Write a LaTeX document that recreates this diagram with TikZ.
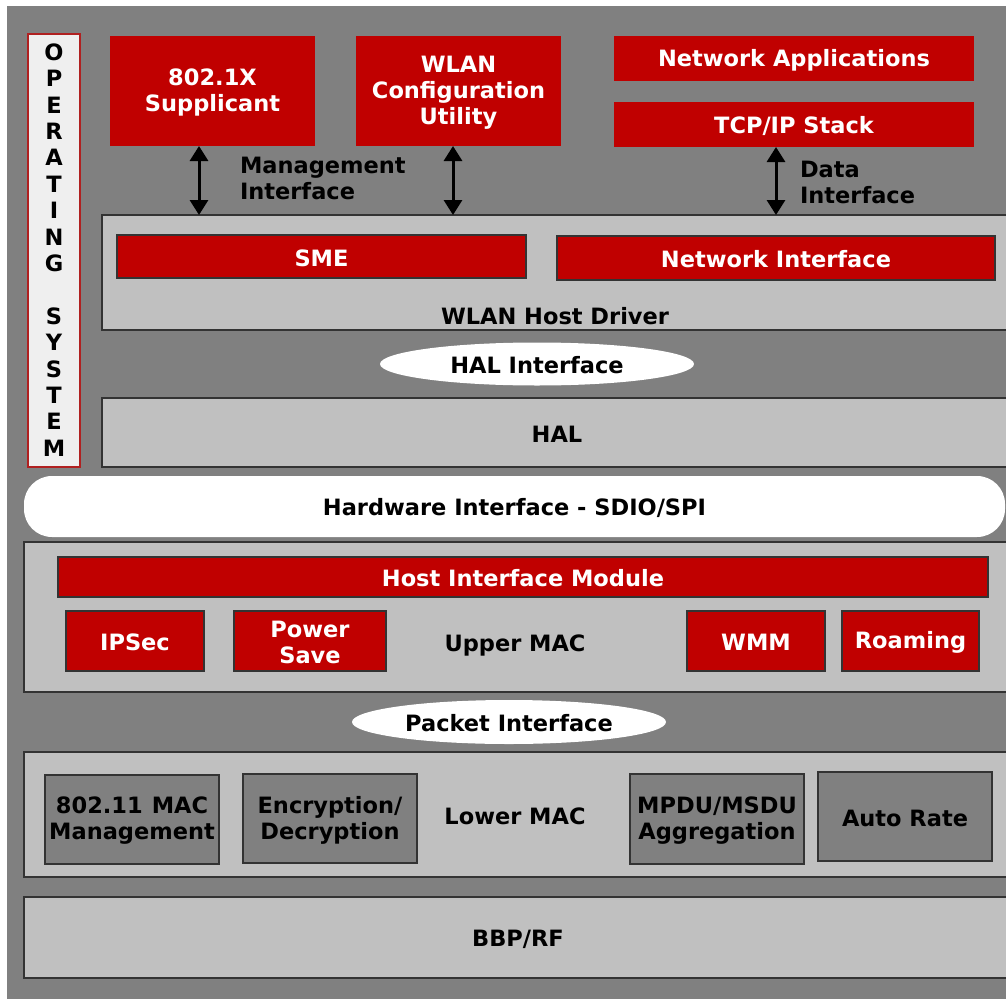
\documentclass[tikz,border=0pt]{standalone}
\usepackage{fontspec}
\setmainfont{DejaVu Sans}
\usetikzlibrary{arrows.meta,shapes.geometric}
\definecolor{bgg}{HTML}{808080}
\definecolor{lg}{HTML}{C0C0C0}
\definecolor{rd}{HTML}{C00000}
\definecolor{bd}{HTML}{333333}
\definecolor{osf}{HTML}{EFEFEF}
\definecolor{osb}{HTML}{B02020}
\newcommand{\blk}[8][]{%
  \pgfmathsetmacro\cx{(#3+#5)/2}\pgfmathsetmacro\cy{(#4+#6)/2}%
  \pgfmathsetmacro\ww{#5-#3}\pgfmathsetmacro\hh{#6-#4}%
  \node[#1, minimum width=\ww pt, minimum height=\hh pt] (#2) at (\cx,\cy) {};
  \node[txt, #7] (#2-t) at (#2.center) {#8};}
\begin{document}
\begin{tikzpicture}[x=1pt,y=-1pt,
  every node/.style={font=\bfseries\fontsize{22.5}{26}\selectfont, inner sep=0pt, outer sep=0pt},
  txt/.style={align=center, yshift=-1.5pt},
  base/.style={rectangle},
  redbox/.style={base, fill=rd},
  redbd/.style={redbox, draw=bd, line width=1.3pt},
  layer/.style={base, fill=lg, draw=bd, line width=1.3pt},
  dkbox/.style={base, fill=bgg, draw=bd, line width=1.3pt},
  oval/.style={ellipse, fill=white},
  wt/.style={text=white},
  lbl/.style={align=left, anchor=west},
  dbl/.style={{Triangle[width=18pt,length=15pt]}-{Triangle[width=18pt,length=15pt]}, line width=3pt}]
\useasboundingbox (0,0) rectangle (1006,998);
\clip (0,0) rectangle (1006,998);
\fill[white] (0,0) rectangle (1006,998);
\fill[bgg] (7,6) rectangle (1010,1002);
% OS
\blk[base, fill=osf, draw=osb, line width=1.5pt]{os}{28}{34}{80}{467}{font=\bfseries\fontsize{22.5}{26.4}\selectfont, yshift=2pt}{O\\P\\E\\R\\A\\T\\I\\N\\G\\\mbox{}\\S\\Y\\S\\T\\E\\M}
% top apps
\blk[redbox]{sup}{110}{36}{315}{146}{wt}{802.1X\\Supplicant}
\blk[redbox]{wcu}{356}{36}{561}{146}{wt}{WLAN\\Configuration\\Utility}
\blk[redbox]{napp}{614}{36}{974}{81}{wt}{Network Applications}
\blk[redbox]{tcp}{614}{102}{974}{147}{wt}{TCP/IP Stack}
% host driver
\blk[layer]{whd}{102}{215}{1012}{330}{}{}
\blk[redbd]{sme}{117}{235}{526}{278}{wt}{SME}
\blk[redbd]{ni}{557}{236}{995}{280}{wt}{Network Interface}
\node[txt] (whdl) at (555,315) {WLAN Host Driver};
% arrows
\coordinate (a1) at (199,146);
\coordinate (a2) at (453,146);
\coordinate (a3) at (776,147);
\draw[dbl] (a1) -- (a1 |- whd.north);
\draw[dbl] (a2) -- (a2 |- whd.north);
\draw[dbl] (a3) -- (a3 |- whd.north);
\node[lbl] (mgl) at (240,178) {Management\\Interface};
\node[lbl] (dal) at (800,182) {Data\\Interface};
% HAL
\node[oval, minimum width=314pt, minimum height=43pt] (hali) at (537,364) {};
\node[txt] (hali-t) at (hali.center) {HAL Interface};
\blk[layer]{hal}{102}{398}{1012}{467}{}{HAL}
% hardware interface
\blk[base, fill=white, rounded corners=28pt]{hwi}{24}{476}{1005}{537}{}{Hardware Interface - SDIO/SPI}
% upper MAC
\blk[layer]{umac}{24}{542}{1012}{692}{}{}
\blk[redbd]{him}{58}{557}{988}{597}{wt}{Host Interface Module}
\blk[redbd]{ipsec}{66}{611}{204}{671}{wt}{IPSec}
\blk[redbd]{ps}{234}{611}{386}{671}{wt}{Power\\Save}
\blk[redbd]{wmm}{687}{611}{825}{671}{wt}{WMM}
\blk[redbd]{roam}{842}{611}{979}{671}{wt}{Roaming}
\node[txt] (umacl) at (515,644) {Upper MAC};
% packet interface
\node[oval, minimum width=314pt, minimum height=44pt] (pki) at (509,722) {};
\node[txt] (pki-t) at (pki.center) {Packet Interface};
% lower MAC
\blk[layer]{lmac}{24}{752}{1012}{877}{}{}
\blk[dkbox]{mgmt}{45}{775}{219}{864}{}{802.11\hspace{0.4em}MAC\\Management}
\blk[dkbox]{enc}{243}{774}{417}{863}{}{Encryption/\\Decryption}
\blk[dkbox]{mpdu}{630}{774}{804}{864}{}{MPDU/MSDU\\Aggregation}
\blk[dkbox]{ar}{818}{772}{992}{861}{}{Auto Rate}
\node[txt] (lmacl) at (515,815) {Lower MAC};
% BBP
\blk[layer]{bbp}{24}{897}{1012}{978}{}{BBP/RF}
\end{tikzpicture}
\end{document}
